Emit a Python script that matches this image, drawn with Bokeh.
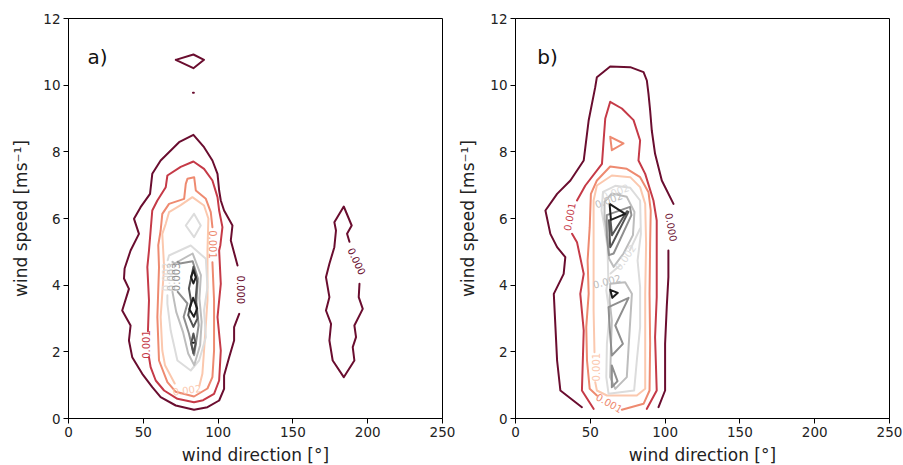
from bokeh.plotting import figure
from bokeh.models import ColumnDataSource, FixedTicker, Range1d
from bokeh.layouts import row
from bokeh.embed import file_html
from bokeh.resources import INLINE
from bokeh.core.properties import value

# ---------------- data (wind direction [deg], wind speed [m/s]) ----------------
LEVEL_COLORS = ["#6a0d2f", "#c53a47", "#ee8a70", "#fbc8ae",
                "#dcdcdc", "#bdbdbd", "#8f8f8f", "#555555", "#1e1e1e"]
X_TICKS = [0, 50, 100, 150, 200, 250]
Y_TICKS = [0, 2, 4, 6, 8, 10, 12]
PANEL_TAGS = ["a)", "b)"]

# ---- panel a contour lines, one list of segments per level ----
A_L1 = [
    [(113.0, 4.59), (108.5, 5.34), (109.6, 5.79), (104.0, 6.24), (101.8, 6.54), (100.7, 6.84),
     (99.6, 7.34), (96.2, 7.74), (90.6, 8.14), (83.5, 8.51), (73.9, 8.29), (61.6, 7.74),
     (56.0, 7.34), (54.5, 6.74), (48.2, 6.34), (43.8, 5.99), (47.1, 5.54), (41.5, 5.04),
     (37.5, 4.5), (37.1, 4.2), (40.4, 3.89), (35.9, 3.24), (41.5, 2.79), (40.4, 2.34),
     (42.6, 1.84), (49.3, 1.34), (56.0, 0.94), (61.6, 0.64), (71.7, 0.39), (83.9, 0.26),
     (92.9, 0.34), (100.7, 0.54), (104.0, 0.89), (104.0, 1.29), (107.4, 1.84), (110.7, 2.34),
     (110.7, 2.74), (114.1, 3.14)],
    [(71.7, 10.76), (83.5, 10.92), (90.6, 10.76), (83.5, 10.51), (71.7, 10.76)],
    [(83.2, 9.77), (83.8, 9.77)],
    [(194.5, 4.04), (194.0, 3.64), (196.7, 3.29), (191.1, 2.79), (192.2, 2.44), (190.0, 2.14),
     (191.1, 1.74), (184.0, 1.24), (176.6, 1.74), (174.4, 2.34), (175.5, 2.84), (172.1, 3.24),
     (174.4, 3.64), (172.1, 4.24), (174.4, 4.64), (177.7, 5.14), (178.8, 5.64), (177.7, 5.89),
     (184.0, 6.36), (189.3, 5.79), (186.2, 5.54), (187.8, 5.3)],
]
A_L2 = [
    [(53.1, 2.62), (53.8, 3.54), (52.7, 4.54), (53.8, 5.04), (54.9, 5.64), (56.0, 6.24),
     (59.4, 6.54), (65.0, 6.94), (66.1, 7.29), (75.0, 7.55), (83.5, 7.71), (90.6, 7.49),
     (96.2, 7.14), (99.6, 6.64), (100.7, 6.24), (102.9, 5.74), (101.5, 5.2), (100.7, 5.04),
     (101.8, 4.04), (99.6, 3.04), (101.8, 2.04), (100.7, 1.14), (97.3, 0.74), (90.0, 0.55),
     (83.9, 0.49), (72.8, 0.59), (63.9, 0.84), (58.3, 1.14), (54.9, 1.54), (53.8, 1.84)],
]
A_L3 = [
    [(96.2, 4.69), (97.3, 3.54), (97.3, 2.04), (96.2, 1.24), (92.9, 0.9), (83.9, 0.66),
     (71.7, 0.8), (66.1, 1.09), (60.5, 1.74), (59.4, 3.04), (60.5, 4.54), (60.0, 5.2),
     (61.6, 5.64), (62.7, 6.14), (67.2, 6.44), (77.3, 6.59), (78.4, 7.04), (79.5, 7.19),
     (84.0, 7.24), (85.1, 6.84), (91.8, 6.59), (95.1, 6.19), (96.2, 5.74)],
]
A_L4 = [
    [(71.0, 1.05), (64.5, 1.6), (62.7, 2.04), (61.6, 3.04), (63.9, 4.54), (62.7, 5.54),
     (65.0, 5.84), (67.2, 6.19), (75.0, 6.4), (82.8, 6.64), (90.6, 6.39), (93.5, 6.0),
     (92.9, 5.04), (92.9, 3.54), (90.6, 2.04), (89.5, 1.34), (87.5, 0.98)],
]
A_L5 = [
    [(83.9, 6.14), (78.4, 5.79), (83.9, 5.44), (88.4, 5.79), (83.9, 6.14)],
    [(66.1, 3.7), (66.1, 3.44), (68.3, 2.64), (72.8, 1.74), (81.7, 1.44), (87.3, 1.74),
     (91.8, 2.44), (90.6, 3.24), (92.9, 3.94), (91.8, 4.79), (81.7, 5.19), (67.2, 4.89),
     (66.3, 4.75)],
]
A_L6 = [
    [(69.5, 3.8), (72.0, 3.2), (76.5, 2.6), (80.0, 1.95), (84.0, 1.6), (88.0, 2.2), (89.0, 2.9),
     (87.5, 3.6), (88.5, 4.3), (83.0, 4.95), (71.0, 4.65), (69.5, 4.7)],
]
A_L7 = [
    [(73.0, 3.8), (79.5, 3.45), (77.0, 3.05), (80.5, 2.55), (84.0, 1.9), (87.0, 2.8),
     (85.5, 3.5), (86.5, 4.2), (83.0, 4.72), (74.5, 4.65), (73.0, 4.7)],
]
A_L8 = [
    [(83.5, 4.55), (86.0, 4.1), (85.0, 3.6), (86.2, 3.0), (83.5, 2.75), (80.0, 3.1),
     (82.0, 3.5), (80.5, 3.9), (83.5, 4.55)],
    [(83.5, 2.55), (85.0, 2.25), (83.5, 1.95), (82.0, 2.25), (83.5, 2.55)],
]
A_L9 = [
    [(83.5, 4.44), (85.1, 4.24), (83.5, 4.05), (81.9, 4.24), (83.5, 4.44)],
    [(83.3, 3.62), (86.0, 3.3), (83.8, 3.05), (80.8, 3.28), (83.3, 3.62)],
    [(83.2, 2.27), (83.8, 2.27)],
]

# ---- panel b contour lines ----
B_L1 = [
    [(44.4, 0.34), (30.0, 0.84), (27.8, 1.74), (26.7, 2.74), (25.6, 3.74), (32.2, 4.34),
     (33.3, 4.84), (27.8, 5.14), (23.3, 5.54), (20.0, 6.24), (27.8, 6.74), (36.7, 7.14),
     (45.6, 7.74), (46.7, 8.14), (48.9, 8.94), (53.3, 9.94), (54.4, 10.24), (63.3, 10.56),
     (76.7, 10.54), (85.6, 10.39), (87.8, 10.14), (88.9, 9.74), (90.0, 9.24), (91.1, 8.64),
     (93.3, 7.94), (97.8, 7.14), (105.6, 6.44)],
    [(102.2, 5.04), (102.2, 4.24), (101.1, 3.34), (100.0, 2.24), (100.0, 0.84), (95.6, 0.34)],
]
B_L2 = [
    [(41.1, 6.54), (46.7, 6.99), (57.8, 7.64), (58.9, 8.34), (60.0, 9.0), (63.3, 9.5),
     (71.1, 9.3), (78.9, 8.95), (83.3, 8.34), (82.2, 7.74), (86.7, 7.34), (92.2, 6.54),
     (94.4, 5.94), (94.4, 5.14), (94.4, 3.64), (93.3, 2.44), (94.4, 0.84), (87.8, 0.29)],
    [(37.8, 5.54), (41.1, 5.29), (45.6, 4.34), (43.3, 3.74), (45.6, 2.64), (44.4, 0.84),
     (52.2, 0.29)],
]
B_L3 = [
    [(63.3, 8.45), (72.2, 8.25), (64.4, 8.05), (63.3, 8.45)],
    [(71.1, 0.26), (85.6, 0.44), (89.6, 0.84), (90.0, 2.24), (89.6, 3.74), (90.0, 5.24),
     (90.4, 6.24), (88.9, 6.79), (83.3, 7.24), (74.4, 7.49), (63.3, 7.56), (54.4, 7.14),
     (50.4, 6.74), (49.6, 5.74), (48.2, 4.74), (48.9, 3.74), (47.3, 2.74), (47.8, 1.74),
     (49.6, 0.89), (54.4, 0.69)],
]
B_L4 = [
    [(53.3, 1.09), (54.4, 0.84), (61.1, 0.69), (81.1, 0.69), (86.7, 0.89), (86.7, 2.24),
     (86.7, 3.74), (87.3, 5.24), (86.7, 6.44), (83.3, 6.94), (76.7, 7.24), (64.4, 7.29),
     (54.4, 6.99), (52.2, 6.54), (52.2, 4.74), (52.2, 3.24), (52.8, 1.99)],
]
B_L5 = [
    [(57.5, 6.24), (58.5, 6.8), (66.7, 6.98), (76.7, 6.92), (83.3, 6.54), (83.8, 5.54),
     (81.6, 4.74), (83.3, 3.94), (83.3, 2.74), (81.1, 1.74), (79.3, 0.84), (62.2, 0.74),
     (60.7, 1.24), (61.1, 2.24), (62.9, 3.14), (60.7, 3.84), (62.0, 4.24), (61.5, 5.14),
     (59.5, 5.74), (57.5, 6.24)],
    [(83.3, 5.7), (76.5, 5.05)],
    [(70.0, 4.6), (63.5, 4.35)],
]
B_L6 = [
    [(59.5, 6.5), (64.4, 6.75), (74.4, 6.65), (79.5, 6.2), (78.5, 5.5), (72.2, 4.95),
     (65.6, 4.55), (62.5, 4.8), (61.5, 5.5), (59.5, 6.0), (59.5, 6.5)],
    [(63.3, 4.04), (73.3, 4.09), (77.8, 3.74), (76.7, 2.94), (75.6, 2.14), (74.4, 1.24),
     (66.7, 0.89), (63.3, 1.24), (63.8, 2.14), (64.4, 2.94), (62.9, 3.54), (63.3, 4.04)],
]
B_L7 = [
    [(61.0, 6.1), (76.5, 6.35), (77.5, 6.1), (65.6, 4.95), (62.5, 4.9), (61.0, 5.5), (61.0, 6.1)],
    [(62.2, 3.34), (75.6, 3.62), (66.7, 2.79), (71.8, 2.24), (64.4, 1.89), (62.9, 2.74),
     (62.2, 3.34)],
    [(64.4, 1.59), (68.2, 1.12), (64.4, 0.94), (64.4, 1.59)],
]
B_L8 = [
    [(62.5, 5.95), (63.3, 5.14), (64.8, 5.25), (75.5, 6.2), (74.5, 6.22), (64.5, 5.5),
     (63.5, 5.95), (62.5, 5.95)],
]
B_L9 = [
    [(62.9, 6.44), (73.3, 6.14), (63.8, 5.96), (62.9, 6.44)],
    [(63.3, 3.86), (68.4, 3.77), (64.7, 3.62), (63.3, 3.86)],
]

# ---- inline contour labels: text, position, angle [deg], level index ----
A_LABEL_TEXT = ["0.000", "0.000", "0.001", "0.001", "0.002", "0.002", "0.003", "0.003"]
A_LABEL_DIR = [115.3, 192.8, 52.0, 96.6, 79.2, 65.2, 68.6, 72.0]
A_LABEL_SPD = [3.86, 4.72, 2.22, 5.22, 0.86, 4.25, 4.25, 4.25]
A_LABEL_ANGLE = [-90, -65, 90, -90, 8, 90, 90, 90]
A_LABEL_LEVEL = [0, 0, 1, 2, 3, 4, 5, 6]

B_LABEL_TEXT = ["0.000", "0.001", "0.001", "0.001", "0.002", "0.002", "0.002", "0.002"]
B_LABEL_DIR = [104.3, 36.0, 62.7, 54.0, 66.7, 62.2, 73.3, 61.1]
B_LABEL_SPD = [5.74, 6.05, 0.47, 1.54, 6.8, 6.56, 4.84, 4.12]
B_LABEL_ANGLE = [-80, 80, -30, 90, 20, 20, 55, 15]
B_LABEL_LEVEL = [0, 1, 2, 3, 4, 5, 4, 5]

A_LEVELS = [A_L1, A_L2, A_L3, A_L4, A_L5, A_L6, A_L7, A_L8, A_L9]
B_LEVELS = [B_L1, B_L2, B_L3, B_L4, B_L5, B_L6, B_L7, B_L8, B_L9]

FONT = "DejaVu Sans"


def make_panel(levels, lab_text, lab_dir, lab_spd, lab_angle, lab_level, tag, tag_x,
               border_left, border_right):
    p = figure(frame_width=374, frame_height=400,
               x_range=Range1d(0, 250), y_range=Range1d(0, 12),
               output_backend="svg", toolbar_location=None,
               min_border_left=border_left, min_border_right=border_right,
               min_border_top=18, min_border_bottom=47)
    p.background_fill_color = "white"
    p.border_fill_color = "white"
    p.outline_line_color = "black"
    p.outline_line_width = 1
    p.grid.visible = False

    p.xaxis.ticker = FixedTicker(ticks=X_TICKS)
    p.yaxis.ticker = FixedTicker(ticks=Y_TICKS)
    p.xaxis.axis_label = "wind direction [°]"
    p.yaxis.axis_label = "wind speed [ms⁻¹]"
    for ax in (p.xaxis[0], p.yaxis[0]):
        ax.axis_line_color = "black"
        ax.major_tick_line_color = "black"
        ax.major_tick_in = 0
        ax.major_tick_out = 5
        ax.minor_tick_line_color = None
        ax.major_label_text_font = FONT
        ax.major_label_text_font_size = "13.5px"
        ax.major_label_text_color = "#222222"
        ax.major_label_standoff = 3
        ax.axis_label_text_font = FONT
        ax.axis_label_text_font_size = "17px"
        ax.axis_label_text_font_style = "normal"
        ax.axis_label_text_color = "#222222"
    p.xaxis.axis_label_standoff = 5
    p.yaxis.axis_label_standoff = 9

    for i, segs in enumerate(levels):
        xs = [[pt[0] for pt in seg] for seg in segs]
        ys = [[pt[1] for pt in seg] for seg in segs]
        p.multi_line(xs=xs, ys=ys, line_color=LEVEL_COLORS[i], line_width=2,
                     line_join="round", line_cap="round")

    src = ColumnDataSource(dict(
        x=lab_dir, y=lab_spd, text=lab_text, angle=lab_angle,
        color=[LEVEL_COLORS[k] for k in lab_level]))
    p.text(x="x", y="y", text="text", angle="angle", angle_units="deg",
           text_color="color", text_font=value(FONT), text_font_size="10px",
           text_align="center", text_baseline="middle", source=src)

    p.text(x=[tag_x], y=[10.85], text=[tag], text_font=value(FONT),
           text_font_size="20px", text_color="#111111",
           text_align="left", text_baseline="alphabetic")
    return p


p1 = make_panel(A_LEVELS, A_LABEL_TEXT, A_LABEL_DIR, A_LABEL_SPD, A_LABEL_ANGLE,
                A_LABEL_LEVEL, PANEL_TAGS[0], 12.7, 68, 13)
p2 = make_panel(B_LEVELS, B_LABEL_TEXT, B_LABEL_DIR, B_LABEL_SPD, B_LABEL_ANGLE,
                B_LABEL_LEVEL, PANEL_TAGS[1], 14.5, 60, 14)

layout = row(p1, p2, spacing=0)
open("out.html", "w").write(file_html(layout, INLINE))
